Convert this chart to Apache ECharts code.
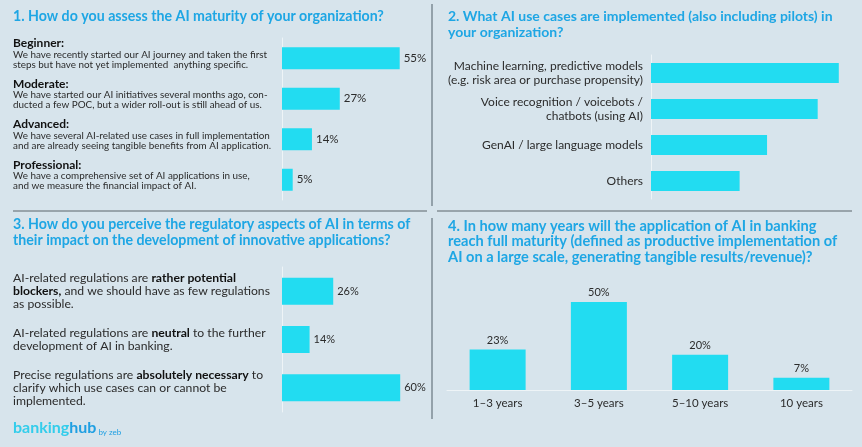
<!DOCTYPE html>
<html><head><meta charset="utf-8">
<script src="https://cdn.jsdelivr.net/npm/echarts@6/dist/echarts.min.js"></script>
<style>html,body{margin:0;padding:0;background:#d7e4ec;}#c{width:862px;height:447px;}</style>
</head><body><div id="c"></div>
<script>
// ---- data ----
const maturityCats = ['Beginner:', 'Moderate:', 'Advanced:', 'Professional:'];
const maturityDesc = [
  ['We have recently started our AI journey and taken the first', 'steps but have not yet implemented  anything specific.'],
  ['We have started our AI initiatives several months ago, con-', 'ducted a few POC, but a wider roll-out is still ahead of us.'],
  ['We have several AI-related use cases in full implementation', 'and are already seeing tangible benefits from AI application.'],
  ['We have a comprehensive set of AI applications in use,', 'and we measure the financial impact of AI.']
];
const maturityValues = [55, 27, 14, 5];

const useCaseCats = [
  'Machine learning, predictive models\n(e.g. risk area or purchase propensity)',
  'Voice recognition / voicebots /\nchatbots (using AI)',
  'GenAI / large language models',
  'Others'
];
const useCaseValues = [89, 79, 55, 42];

// each label: lines of [text, bold?] segments
const regulationCats = [
  [[['AI-related regulations are ', 0], ['rather potential', 1]], [['blockers,', 1], [' and we should have as few regulations', 0]], [['as possible.', 0]]],
  [[['AI-related regulations are ', 0], ['neutral', 1], [' to the further', 0]], [['development of AI in banking.', 0]]],
  [[['Precise regulations are ', 0], ['absolutely necessary', 1], [' to', 0]], [['clarify which use cases can or cannot be', 0]], [['implemented.', 0]]]
];
const regulationValues = [26, 14, 60];

const yearsCats = ['1–3 years', '3–5 years', '5–10 years', '10 years'];
const yearsValues = [23, 50, 20, 7];

const titles = [
  '1. How do you assess the AI maturity of your organization?',
  '2. What AI use cases are implemented (also including pilots) in\nyour organization?',
  '3. How do you perceive the regulatory aspects of AI in terms of\ntheir impact on the development of innovative applications?',
  '4. In how many years will the application of AI in banking\nreach full maturity (defined as productive implementation of\nAI on a large scale, generating tangible results/revenue)?'
];

// ---- style ----
const FONT = 'Lato';
const BAR = '#22dcf1';
const TXT = '#2b2b2b';
const BLUE = '#1ea6e4';
const AXIS = '#eef4f7';

const chart = echarts.init(document.getElementById('c'));

const pctLabel = (pos, size) => ({ show: true, position: pos, distance: 4, formatter: '{c}%', color: TXT, fontFamily: FONT, fontSize: size });

const option = {
  backgroundColor: '#d7e4ec',
  animation: false,
  title: titles.map((t, i) => ({
    text: t,
    left: [13, 448, 13, 448][i],
    top: [9, 9, 217, 218][i],
    padding: 0,
    textStyle: { fontFamily: FONT, fontSize: [14.2, 14, 14.2, 14.6][i], fontWeight: 'bold', color: BLUE, lineHeight: 15.7 }
  })),
  grid: [
    { left: 282, top: 38, width: 214, height: 162 },
    { left: 651, top: 55, width: 214, height: 144 },
    { left: 282, top: 267, width: 197, height: 145 },
    { left: 447, top: 214, width: 405, height: 176 }
  ],
  xAxis: [
    { type: 'value', gridIndex: 0, min: 0, max: 100, show: false },
    { type: 'value', gridIndex: 1, min: 0, max: 100, show: false },
    { type: 'value', gridIndex: 2, min: 0, max: 100, show: false },
    { type: 'category', gridIndex: 3, data: yearsCats,
      axisLine: { lineStyle: { color: AXIS, width: 1 } }, axisTick: { show: false },
      axisLabel: { color: TXT, fontFamily: FONT, fontSize: 11.5, margin: 7 } }
  ],
  yAxis: [
    { type: 'category', gridIndex: 0, inverse: true, data: maturityCats,
      axisLine: { lineStyle: { color: AXIS, width: 1 } }, axisTick: { show: false },
      axisLabel: {
        align: 'left', margin: 269, padding: [0, 0, 10, 0],
        formatter: (v, i) => '{h|' + v + '}\n' + maturityDesc[i].map(l => '{b|' + l + '}').join('\n'),
        rich: {
          h: { fontFamily: FONT, fontSize: 12, fontWeight: 'bold', color: '#111', lineHeight: 13 },
          b: { fontFamily: FONT, fontSize: 9.9, color: TXT, lineHeight: 10 }
        }
      } },
    { type: 'category', gridIndex: 1, inverse: true, data: useCaseCats,
      axisLine: { lineStyle: { color: AXIS, width: 1 } }, axisTick: { show: false },
      axisLabel: { margin: 8, color: TXT, fontFamily: FONT, fontSize: 12, lineHeight: 14, align: 'right' } },
    { type: 'category', gridIndex: 2, inverse: true, data: regulationCats.map((_, i) => i),
      axisLine: { lineStyle: { color: AXIS, width: 1 } }, axisTick: { show: false },
      axisLabel: {
        align: 'left', margin: 269,
        formatter: (v, i) => regulationCats[i].map(line => line.map(s => '{' + (s[1] ? 'k' : 'n') + '|' + s[0] + '}').join('')).join('\n'),
        rich: {
          n: { fontFamily: FONT, fontSize: 12.2, color: TXT, lineHeight: 13 },
          k: { fontFamily: FONT, fontSize: 12.2, fontWeight: 'bold', color: '#111', lineHeight: 13 }
        }
      } },
    { type: 'value', gridIndex: 3, min: 0, max: 100, show: false }
  ],
  series: [
    { type: 'bar', xAxisIndex: 0, yAxisIndex: 0, data: maturityValues, barWidth: 22, itemStyle: { color: BAR }, label: pctLabel('right', 11.5) },
    { type: 'bar', xAxisIndex: 1, yAxisIndex: 1, data: useCaseValues, barWidth: 20, itemStyle: { color: BAR } },
    { type: 'bar', xAxisIndex: 2, yAxisIndex: 2, data: regulationValues, barWidth: 27, itemStyle: { color: BAR }, label: pctLabel('right', 11) },
    { type: 'bar', xAxisIndex: 3, yAxisIndex: 3, data: yearsValues, barWidth: 56, itemStyle: { color: BAR }, label: pctLabel('top', 11) }
  ],
  graphic: [
    { type: 'line', shape: { x1: 432, y1: 4, x2: 432, y2: 206 }, style: { stroke: '#7d8b94', lineWidth: 1.5 } },
    { type: 'line', shape: { x1: 432, y1: 218, x2: 432, y2: 419 }, style: { stroke: '#7d8b94', lineWidth: 1.5 } },
    { type: 'line', shape: { x1: 13, y1: 211, x2: 427, y2: 211 }, style: { stroke: '#5a646b', lineWidth: 1 } },
    { type: 'line', shape: { x1: 437, y1: 211, x2: 852, y2: 211 }, style: { stroke: '#5a646b', lineWidth: 1 } },
    { type: 'text', left: 13, top: 420, style: {
      text: '{a|banking}{b|hub}{c| by zeb}',
      rich: {
        a: { fontFamily: FONT, fontSize: 16, fontWeight: 'bold', fill: '#33cdeb' },
        b: { fontFamily: FONT, fontSize: 16, fontWeight: 'bold', fill: '#1f9fe2' },
        c: { fontFamily: FONT, fontSize: 8, fill: '#1f9fe2', verticalAlign: 'bottom', padding: [5, 0, 0, 0] }
      } } }
  ]
};
chart.setOption(option);
</script>
</body></html>
